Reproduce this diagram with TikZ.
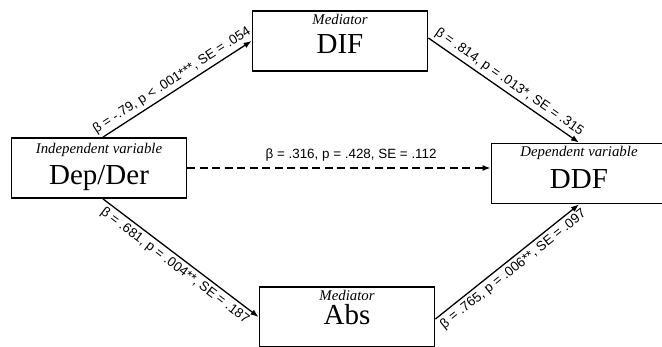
\documentclass[tikz,border=0pt]{standalone}
\usepackage{fontspec}
\setmainfont{Liberation Serif}
\newfontfamily\coeffont{Liberation Sans}
\usetikzlibrary{arrows.meta}
\begin{document}
\begin{tikzpicture}[x=1pt,y=-1pt,
  box/.style={draw,line width=1.8pt,minimum width=175pt,minimum height=60pt,inner sep=0pt},
  role/.style={font=\fontsize{14.8}{16}\selectfont\itshape,inner sep=0pt},
  varname/.style={font=\fontsize{29}{32}\selectfont,inner sep=0pt,anchor=base},
  path/.style={line width=1.3pt,-{Latex[length=8pt,width=6pt]}},
  coef/.style={font=\coeffont\fontsize{13.4}{15}\selectfont,inner sep=3pt,sloped}]
\useasboundingbox (0,0) rectangle (662,346);
\node[box] (dep) at (99,168) {};
\node[box] (dif) at (340,41) {};
\node[box] (ddf) at (579,173.5) {};
\node[box] (abs) at (347,317) {};
\node[role] (deprole) at ([yshift=-13pt]dep.north) {Independent variable};
\node[varname] (deptxt) at ([yshift=-47pt]dep.north) {Dep/Der};
\node[role] (difrole) at ([yshift=-9.5pt]dif.north) {Mediator};
\node[varname] (diftxt) at ([yshift=-43pt]dif.north) {DIF};
\node[role] (ddfrole) at ([yshift=-10pt]ddf.north) {Dependent variable};
\node[varname] (ddftxt) at ([yshift=-46pt]ddf.north) {DDF};
\node[role] (absrole) at ([yshift=-9pt]abs.north) {Mediator};
\node[varname] (abstxt) at ([yshift=-38pt]abs.north) {Abs};
\draw[path] ([xshift=4pt]dep.north) -- (dif.west)
  node[coef,midway,above] {β = -.79, p < .001***, SE = .054};
\draw[path] ([yshift=3pt]dif.east) -- (ddf.north)
  node[coef,midway,above] {β = .814, p = .013*, SE = .315};
\draw[path,line width=1.6pt,dash pattern=on 8pt off 4.5pt] (dep.east) -- (dep.east -| ddf.west)
  node[coef,pos=0.54,above=3pt] {β = .316, p = .428, SE = .112};
\draw[path] ([xshift=4pt]dep.south) -- (abs.west)
  node[coef,midway,below] {β = .681, p = .004**, SE = .187};
\draw[path] ([yshift=-2pt]abs.east) -- (ddf.south)
  node[coef,midway,below] {β = .765, p = .006**, SE = .097};
\end{tikzpicture}
\end{document}
